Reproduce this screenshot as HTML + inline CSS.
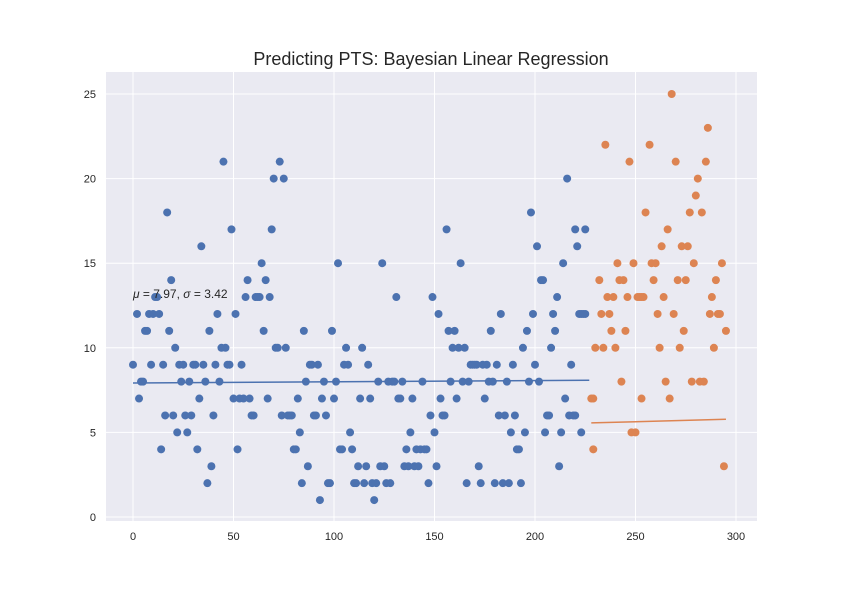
<!DOCTYPE html>
<html><head><meta charset="utf-8"><style>
html,body{margin:0;padding:0;background:#fff;}
svg{display:block;font-family:"Liberation Sans","DejaVu Sans",sans-serif;}
</style></head><body>
<svg id="chart" width="842" height="595" viewBox="0 0 842 595"></svg>
<script>
const blueX=[0,2,3,4,5,6,7,8,9,10,11,12,13,14,15,16,17,18,19,20,21,22,23,24,25,26,27,28,29,30,31,32,33,34,35,36,37,38,39,40,41,42,43,44,45,46,47,48,49,50,51,52,53,54,55,56,57,58,59,60,61,62,63,64,65,66,67,68,69,70,71,72,73,74,75,76,77,78,79,80,81,82,83,84,85,86,87,88,89,90,91,92,93,94,95,96,97,98,99,100,101,102,103,104,105,106,107,108,109,110,111,112,113,114,115,116,117,118,119,120,121,122,123,124,125,126,127,128,129,130,131,132,133,134,135,136,137,138,139,140,141,142,143,144,145,146,147,148,149,150,151,152,153,154,155,156,157,158,159,160,161,162,163,164,165,166,167,168,169,170,171,172,173,174,175,176,177,178,179,180,181,182,183,184,185,186,187,188,189,190,191,192,193,194,195,196,197,198,199,200,201,202,203,204,205,206,207,208,209,210,211,212,213,214,215,216,217,218,219,220,220,221,222,223,223,224,225,225];
const blueY=[9,12,7,8,8,11,11,12,9,12,13,13,12,4,9,6,18,11,14,6,10,5,9,8,9,6,5,8,6,9,9,4,7,16,9,8,2,11,3,6,9,12,8,10,21,10,9,9,17,7,12,4,7,9,7,13,14,7,6,6,13,13,13,15,11,14,7,13,17,20,10,10,21,6,20,10,6,6,6,4,4,7,5,2,11,8,3,9,9,6,6,9,1,7,8,6,2,2,11,7,8,15,4,4,9,10,9,5,4,2,2,3,7,10,2,3,9,7,2,1,2,8,3,15,3,2,8,2,8,8,13,7,7,8,3,4,3,5,7,3,4,3,4,8,4,4,2,6,13,5,3,12,7,6,6,17,11,8,10,11,7,10,15,8,10,2,8,9,9,9,9,3,2,9,7,9,8,11,8,2,9,6,12,2,6,8,2,5,9,6,4,4,2,10,5,11,8,18,12,9,16,8,14,14,5,6,6,10,12,11,13,3,5,15,7,20,6,9,6,6,17,16,12,12,5,12,12,17];
const orangeX=[228,229,229,230,232,233,234,235,236,237,238,239,240,241,242,243,244,245,246,247,248,249,250,251,252,253,253,254,255,257,258,259,260,261,262,263,264,265,266,267,268,269,270,271,272,273,274,275,276,277,278,279,280,281,282,283,284,285,286,287,288,289,290,291,292,293,294,295];
const orangeY=[7,7,4,10,14,12,10,22,13,12,11,13,10,15,14,8,14,11,13,21,5,15,5,13,13,13,7,13,18,22,15,14,15,12,10,16,13,8,17,7,25,12,21,14,10,16,11,14,16,18,8,15,19,20,8,18,8,21,23,12,13,10,14,12,12,15,3,11];
const blueLineX=[0,227], blueLineY=[7.92,8.08];
const orangeLineX=[228,295], orangeLineY=[5.56,5.78];
const xTicks=[0,50,100,150,200,250,300];
const yTicks=[0,5,10,15,20,25];

const L=106,R=757,T=72,B=521;
const sx=v=>133+v*(736-133)/300;
const sy=v=>517-v*(517-94)/25;
const NS="http://www.w3.org/2000/svg";
const svg=document.getElementById('chart');
function mk(tag,attrs,parent){const e=document.createElementNS(NS,tag);for(const k in attrs)e.setAttribute(k,attrs[k]);(parent||svg).appendChild(e);return e;}

const bg=mk('rect',{x:L,y:T,width:R-L,height:B-T,fill:'#eaeaf2'});



xTicks.forEach(t=>{
  const g=mk('line',{x1:sx(t),x2:sx(t),y1:T,y2:B,stroke:'#fff','stroke-width':1});
  
  
  const tx=mk('text',{x:sx(t),y:540,'text-anchor':'middle','font-size':11,fill:'#262626'});
  tx.textContent=t;
  
  
});
yTicks.forEach(t=>{
  const g=mk('line',{x1:L,x2:R,y1:sy(t),y2:sy(t),stroke:'#fff','stroke-width':1});
  
  
  const tx=mk('text',{x:96,y:sy(t)+4,'text-anchor':'end','font-size':11,fill:'#262626'});
  tx.textContent=t;
  
  
});

const gb=mk('g',{fill:'#4c72b0'});


blueX.forEach((x,i)=>{
  const c=mk('circle',{cx:sx(x),cy:sy(blueY[i]),r:4},gb);
  
  
});
const go=mk('g',{fill:'#dd8452'});


orangeX.forEach((x,i)=>{
  const c=mk('circle',{cx:sx(x),cy:sy(orangeY[i]),r:4},go);
  
  
});

const bl=mk('line',{x1:sx(blueLineX[0]),y1:sy(blueLineY[0]),x2:sx(blueLineX[1]),y2:sy(blueLineY[1]),stroke:'#4c72b0','stroke-width':1.5});


const ol=mk('line',{x1:sx(orangeLineX[0]),y1:sy(orangeLineY[0]),x2:sx(orangeLineX[1]),y2:sy(orangeLineY[1]),stroke:'#dd8452','stroke-width':1.5});



const ann=mk('text',{x:133,y:298,'font-size':12,fill:'#262626'});


const a1=mk('tspan',{'font-style':'italic'},ann); a1.textContent='μ';
const a2=mk('tspan',{},ann); a2.textContent=' = 7.97,  ';
const a3=mk('tspan',{'font-style':'italic'},ann); a3.textContent='σ';
const a4=mk('tspan',{},ann); a4.textContent=' = 3.42';

const title=mk('text',{x:431,y:65,'text-anchor':'middle','font-size':18,fill:'#262626'});
title.textContent='Predicting PTS: Bayesian Linear Regression';


</script>
</body></html>
